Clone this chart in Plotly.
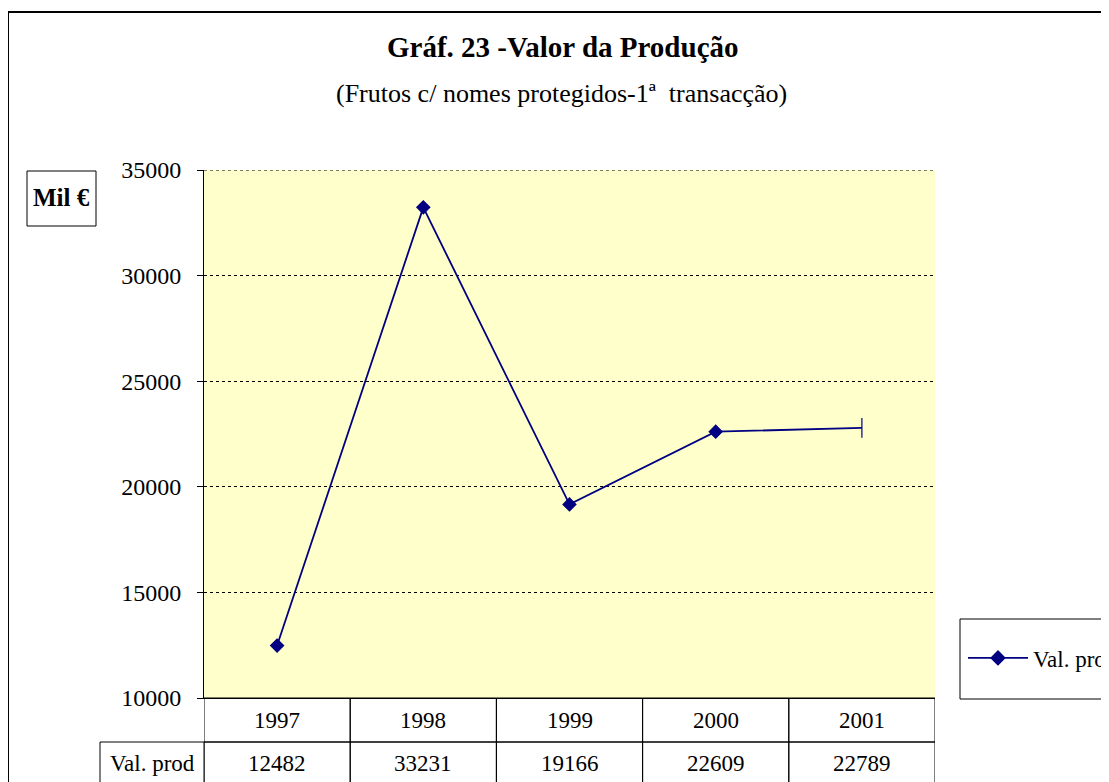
import plotly.graph_objects as go

years = ["1997", "1998", "1999", "2000", "2001"]
values = [12482, 33231, 19166, 22609, 22789]
series_name = "Val. prod"
y_ticks = [10000, 15000, 20000, 25000, 30000, 35000]
title_text = "<b>Gráf. 23 -Valor da Produção</b>"
subtitle_text = "(Frutos c/ nomes protegidos-1ª  transacção)"
unit_text = "<b>Mil €</b>"

W, H = 1109, 782
OFF = 8  # page body margin
L, R, T, B = 204, 935, 170, 698
pw, ph = R - L, B - T

def px(x):
    return (x - L) / pw

def py(y):
    return (B - y) / ph

NAVY = "#000080"
FONT = "Liberation Serif, Times New Roman, serif"

fig = go.Figure()
symbols = ["diamond"] * (len(values) - 1) + ["line-ns"]
fig.add_trace(go.Scatter(
    x=list(range(len(years))), y=values, mode="lines+markers", name=series_name,
    line=dict(color=NAVY, width=1.8),
    marker=dict(symbol=symbols, size=[10] * (len(values) - 1) + [14], opacity=1,
                color=NAVY, line=dict(color=NAVY, width=1.2)),
    cliponaxis=False,
))

shapes = []
shapes.append(dict(type="rect", xref="paper", yref="paper",
                   x0=px(8), x1=px(1200), y0=py(900), y1=py(12),
                   line=dict(color="black", width=2), fillcolor="rgba(0,0,0,0)", layer="below"))
shapes.append(dict(type="rect", xref="paper", yref="paper",
                   x0=px(27), x1=px(96), y0=py(226), y1=py(171),
                   line=dict(color="black", width=1)))
shapes.append(dict(type="rect", xref="paper", yref="paper",
                   x0=px(960), x1=px(1200), y0=py(699), y1=py(619),
                   line=dict(color="black", width=1)))
shapes.append(dict(type="line", xref="paper", yref="y", x0=0, x1=1,
                   y0=y_ticks[-1], y1=y_ticks[-1],
                   line=dict(color="black", width=1, dash="dot")))

row1_top, row1_bot, row2_bot = py(698), py(742), py(820)
n = len(years)
for i in range(n):
    shapes.append(dict(type="rect", xref="x", yref="paper",
                       x0=i - 0.5, x1=i + 0.5, y0=row1_bot, y1=row1_top,
                       line=dict(color="black", width=1)))
    shapes.append(dict(type="rect", xref="x", yref="paper",
                       x0=i - 0.5, x1=i + 0.5, y0=row2_bot, y1=row1_bot,
                       line=dict(color="black", width=1)))
shapes.append(dict(type="rect", xref="paper", yref="paper",
                   x0=px(100), x1=0, y0=row2_bot, y1=row1_bot,
                   line=dict(color="black", width=1)))

def ann(text, x, y, size, xref="paper"):
    return dict(text=text, xref=xref, yref="paper", x=x, y=y, showarrow=False,
                xanchor="center", yanchor="middle",
                font=dict(family=FONT, size=size, color="black"))

annotations = [
    ann(title_text, px(563), py(47), 29),
    ann(subtitle_text, px(561), py(93), 26),
    ann(unit_text, px(61.5), py(198), 25),
    ann(series_name, px(152), py(763), 23),
]
for i, (yr, v) in enumerate(zip(years, values)):
    annotations.append(ann(yr, i, py(720), 23, xref="x"))
    annotations.append(ann(str(v), i, py(763), 23, xref="x"))

fig.update_layout(
    width=W, height=H,
    margin=dict(l=L - OFF, r=W - (L - OFF) - pw, t=T - OFF, b=H - (T - OFF) - ph,
                pad=0, autoexpand=False),
    paper_bgcolor="white", plot_bgcolor="#FFFFCC",
    font=dict(family=FONT, size=23, color="black"),
    showlegend=True,
    legend=dict(x=px(963), y=py(658), xanchor="left", yanchor="middle",
                bgcolor="rgba(0,0,0,0)", borderwidth=0, itemwidth=60,
                font=dict(family=FONT, size=23, color="black")),
    shapes=shapes, annotations=annotations,
)
fig.update_xaxes(range=[-0.5, n - 0.5], showticklabels=False,
                 showgrid=False, zeroline=False, showline=True, linecolor="black",
                 linewidth=1, ticks="")
fig.update_yaxes(range=[10000, 35000], tickvals=y_ticks, tickformat="d", showgrid=True,
                 gridcolor="black", griddash="dot", gridwidth=1, zeroline=False,
                 showline=True, linecolor="black", linewidth=1, ticks="outside",
                 ticklen=6, tickcolor="black", ticklabelstandoff=11,
                 tickfont=dict(family=FONT, size=24, color="black"))

fig.write_html("out.html")
